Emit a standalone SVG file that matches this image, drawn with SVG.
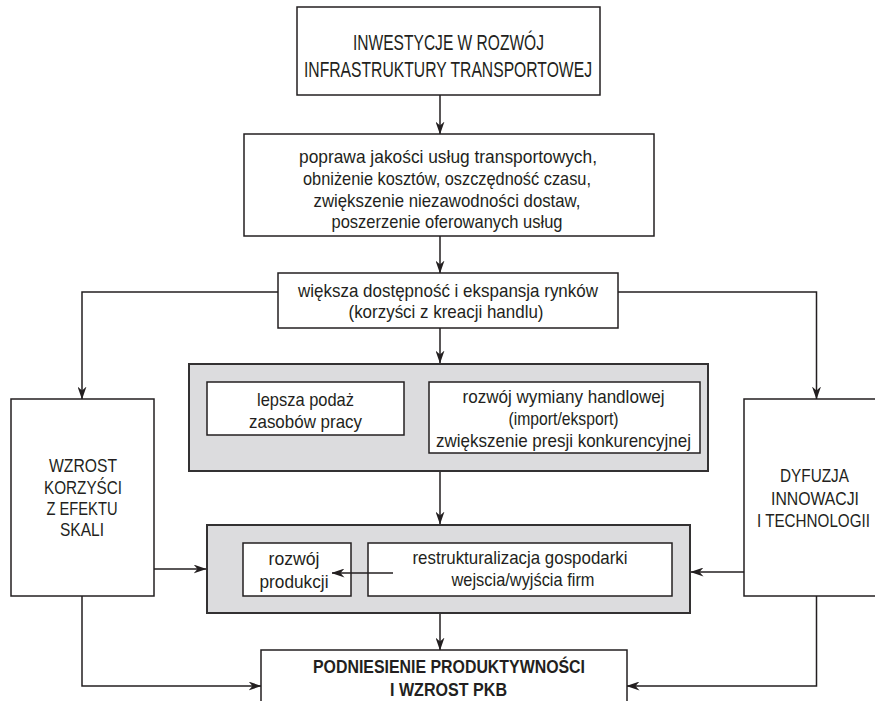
<svg xmlns="http://www.w3.org/2000/svg" width="875" height="701" viewBox="0 0 875 701">
<defs>
<style>
.box{fill:#fff;stroke:#231f20;stroke-width:1.5}
.grp{fill:#dcdcde;stroke:#333132;stroke-width:2}
.ln{fill:none;stroke:#231f20;stroke-width:1.5}
text{font-family:"Liberation Sans",Arial,sans-serif;font-size:19px;fill:#231f20;text-anchor:middle}
.big{font-size:22px}
.bold{font-weight:bold}
</style>
<marker id="ah" viewBox="0 0 13 9" refX="12.5" refY="4.5" markerWidth="13" markerHeight="9" markerUnits="userSpaceOnUse" orient="auto">
<path d="M0,0 L13,4.5 L0,9 L4,4.5 Z" fill="#231f20"/>
</marker>
</defs>
<rect width="875" height="701" fill="#fff"/>

<g id="connectors">
<line class="ln" x1="440" y1="95" x2="440" y2="134" marker-end="url(#ah)"/>
<line class="ln" x1="440" y1="236" x2="440" y2="273" marker-end="url(#ah)"/>
<polyline class="ln" points="278,292 82,292 82,399" marker-end="url(#ah)"/>
<polyline class="ln" points="618,292 816.5,292 816.5,399" marker-end="url(#ah)"/>
<line class="ln" x1="440" y1="328" x2="440" y2="363" marker-end="url(#ah)"/>
<line class="ln" x1="440" y1="471" x2="440" y2="524" marker-end="url(#ah)"/>
<line class="ln" x1="154" y1="569" x2="206" y2="569" marker-end="url(#ah)"/>
<line class="ln" x1="744" y1="572" x2="691" y2="572" marker-end="url(#ah)"/>
<line class="ln" x1="440" y1="613" x2="440" y2="650" marker-end="url(#ah)"/>
<polyline class="ln" points="82,596 82,686 261,686" marker-end="url(#ah)"/>
<polyline class="ln" points="816.5,596 816.5,686 627,686" marker-end="url(#ah)"/>
</g>

<g id="n-top">
<rect class="box" x="297" y="7" width="303" height="88"/>
<text class="big" x="448.5" y="50" textLength="191" lengthAdjust="spacingAndGlyphs">INWESTYCJE W ROZWÓJ</text>
<text class="big" x="448" y="77" textLength="288" lengthAdjust="spacingAndGlyphs">INFRASTRUKTURY TRANSPORTOWEJ</text>
</g>

<g id="n-jakosc">
<rect class="box" x="244" y="134" width="410" height="102"/>
<text x="448" y="163" textLength="298" lengthAdjust="spacingAndGlyphs">poprawa jakości usług transportowych,</text>
<text x="447" y="185" textLength="288" lengthAdjust="spacingAndGlyphs">obniżenie kosztów, oszczędność czasu,</text>
<text x="447" y="207" textLength="267" lengthAdjust="spacingAndGlyphs">zwiększenie niezawodności dostaw,</text>
<text x="447" y="228" textLength="231" lengthAdjust="spacingAndGlyphs">poszerzenie oferowanych usług</text>
</g>

<g id="n-dostepnosc">
<rect class="box" x="278" y="273" width="340" height="55"/>
<text x="448" y="297" textLength="300" lengthAdjust="spacingAndGlyphs">większa dostępność i ekspansja rynków</text>
<text x="446" y="318" textLength="195" lengthAdjust="spacingAndGlyphs">(korzyści z kreacji handlu)</text>
</g>

<g id="n-grupa1">
<rect class="grp" x="189" y="364" width="519" height="107"/>
</g>

<g id="n-podaz">
<rect class="box" x="207" y="382" width="197" height="53"/>
<text x="305.5" y="406" textLength="97" lengthAdjust="spacingAndGlyphs">lepsza podaż</text>
<text x="305.5" y="428" textLength="113" lengthAdjust="spacingAndGlyphs">zasobów pracy</text>
</g>

<g id="n-wymiana">
<rect class="box" x="429" y="382" width="271" height="71"/>
<text x="563.5" y="403" textLength="202" lengthAdjust="spacingAndGlyphs">rozwój wymiany handlowej</text>
<text x="563.5" y="425" textLength="110" lengthAdjust="spacingAndGlyphs">(import/eksport)</text>
<text x="563.5" y="447" textLength="255" lengthAdjust="spacingAndGlyphs">zwiększenie presji konkurencyjnej</text>
</g>

<g id="n-skala">
<rect class="box" x="11" y="399" width="143" height="197"/>
<text x="83" y="472" textLength="68" lengthAdjust="spacingAndGlyphs">WZROST</text>
<text x="83" y="493.5" textLength="78" lengthAdjust="spacingAndGlyphs">KORZYŚCI</text>
<text x="82" y="515" textLength="71" lengthAdjust="spacingAndGlyphs">Z EFEKTU</text>
<text x="82" y="536" textLength="44" lengthAdjust="spacingAndGlyphs">SKALI</text>
</g>

<g id="n-dyfuzja">
<rect class="box" x="744" y="399" width="132" height="197"/>
<text x="814.5" y="482" textLength="69" lengthAdjust="spacingAndGlyphs">DYFUZJA</text>
<text x="815" y="504.5" textLength="88" lengthAdjust="spacingAndGlyphs">INNOWACJI</text>
<text x="813.5" y="527" textLength="113" lengthAdjust="spacingAndGlyphs">I TECHNOLOGII</text>
</g>

<g id="n-grupa2">
<rect class="grp" x="207" y="525" width="483" height="88"/>
</g>

<g id="n-produkcja">
<rect class="box" x="243" y="543" width="108" height="53"/>
<text x="294" y="565" textLength="51" lengthAdjust="spacingAndGlyphs">rozwój</text>
<text x="294" y="588" textLength="69" lengthAdjust="spacingAndGlyphs">produkcji</text>
</g>

<g id="n-restrukturyzacja">
<rect class="box" x="368" y="543" width="304" height="53"/>
<text x="520" y="564" textLength="215" lengthAdjust="spacingAndGlyphs">restrukturalizacja gospodarki</text>
<text x="523" y="586" textLength="143" lengthAdjust="spacingAndGlyphs">wejscia/wyjścia firm</text>
</g>

<g id="connector-inner">
<line class="ln" x1="393" y1="573" x2="332" y2="573" marker-end="url(#ah)"/>
</g>

<g id="n-pkb">
<rect class="box" x="261" y="650" width="366" height="60"/>
<text class="bold" x="449" y="673" textLength="272" lengthAdjust="spacingAndGlyphs">PODNIESIENIE PRODUKTYWNOŚCI</text>
<text class="bold" x="448.5" y="696" textLength="117" lengthAdjust="spacingAndGlyphs">I WZROST PKB</text>
</g>
</svg>
